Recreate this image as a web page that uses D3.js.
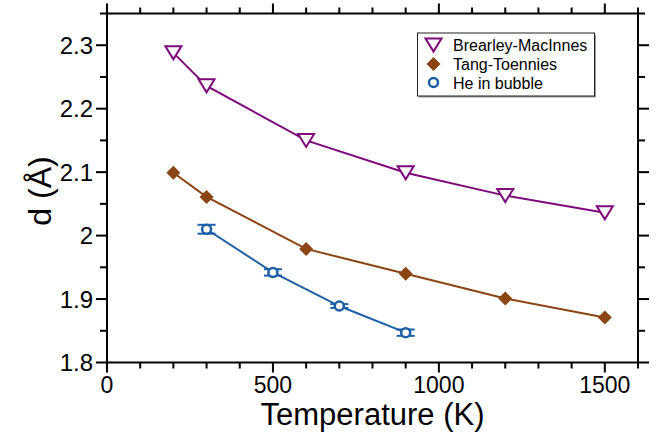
<!DOCTYPE html>
<html><head><meta charset="utf-8">
<script src="https://cdn.jsdelivr.net/npm/d3@7"></script>
<style>body{margin:0;background:#fff}svg{display:block;font-family:"Liberation Sans",Arial,sans-serif}</style>
</head><body><svg id="c" width="665" height="435"></svg>
<script>
const temps = [200, 300, 600, 900, 1200, 1500];
const brearley = [2.288, 2.236, 2.150, 2.099, 2.063, 2.036];
const tang = [2.099, 2.061, 1.979, 1.940, 1.901, 1.871];
const heTemps = [300, 500, 700, 900];
const heBubble = [2.010, 1.942, 1.889, 1.847];
const heErr = [0.007, 0.005, 0.003, 0.005];
const seriesNames = ["Brearley-MacInnes", "Tang-Toennies", "He in bubble"];
const xMajor = [0, 500, 1000, 1500];
const yMajor = [1.8, 1.9, 2.0, 2.1, 2.2, 2.3];
const yLabels = ["1.8", "1.9", "2", "2.1", "2.2", "2.3"];

const colors = ["#7d0a7b", "#8b4513", "#1d5fa6"];
const svg = d3.select("#c");
const L = 107, R = 638, T = 13.5, B = 362.5;
const x = d3.scaleLinear().domain([0, 1600]).range([L, R]);
const y = d3.scaleLinear().domain([1.8, 2.35]).range([B, T]);

const xMinor = d3.range(0, 1601, 100);
const yMinor = d3.range(0, 12).map(i => 1.8 + i * 0.05);

const ax = svg.append("g").attr("stroke", "#000").attr("stroke-width", 2);
ax.append("rect").attr("x", L).attr("y", T).attr("width", R - L).attr("height", B - T).attr("fill", "none");
xMinor.forEach(v => {
  const major = xMajor.includes(v);
  const len = major ? 10 : 6;
  ax.append("line").attr("x1", x(v)).attr("x2", x(v)).attr("y1", B).attr("y2", B + len);
  ax.append("line").attr("x1", x(v)).attr("x2", x(v)).attr("y1", T).attr("y2", T - len);
});
yMinor.forEach(v => {
  const major = yMajor.some(m => Math.abs(m - v) < 1e-6);
  const len = major ? 11 : 7;
  ax.append("line").attr("y1", y(v)).attr("y2", y(v)).attr("x1", L).attr("x2", L - len);
  ax.append("line").attr("y1", y(v)).attr("y2", y(v)).attr("x1", R).attr("x2", R + len);
});
svg.append("g").selectAll("text").data(xMajor).join("text")
  .attr("x", d => x(d)).attr("y", 393).attr("text-anchor", "middle")
  .attr("font-size", 23).text(d => d);
svg.append("g").selectAll("text").data(yMajor).join("text")
  .attr("x", 93).attr("y", d => y(d) + 8.5).attr("text-anchor", "end")
  .attr("font-size", 24).text((d, i) => yLabels[i]);
svg.append("text").attr("x", (L + R) / 2).attr("y", 425).attr("text-anchor", "middle")
  .attr("font-size", 31).text("Temperature (K)");
svg.append("text").attr("transform", "translate(51,191) rotate(-90)").attr("text-anchor", "middle")
  .attr("font-size", 32).text("d (Å)");

const line = d3.line().x(d => x(d[0])).y(d => y(d[1]));
const plot = svg.append("g");
const s1 = temps.map((t, i) => [t, brearley[i]]);
const s2 = temps.map((t, i) => [t, tang[i]]);
const s3 = heTemps.map((t, i) => [t, heBubble[i], heErr[i]]);
[s1, s2, s3].forEach((s, k) => {
  plot.append("path").attr("d", line(s)).attr("fill", "none").attr("stroke", colors[k]).attr("stroke-width", 2);
});
function tri(g, cx, cy, c) {
  g.append("path").attr("d", `M${cx - 8},${cy - 6.5}L${cx + 8},${cy - 6.5}L${cx},${cy + 6.5}Z`)
    .attr("fill", "#fff").attr("stroke", c).attr("stroke-width", 2);
}
function dia(g, cx, cy, c) {
  g.append("path").attr("d", `M${cx},${cy - 7}L${cx + 7},${cy}L${cx},${cy + 7}L${cx - 7},${cy}Z`).attr("fill", c);
}
function circ(g, cx, cy, c) {
  g.append("circle").attr("cx", cx).attr("cy", cy).attr("r", 4.5).attr("fill", "#fff").attr("stroke", c).attr("stroke-width", 2.5);
}
s1.forEach(d => tri(plot, x(d[0]), y(d[1]), colors[0]));
s2.forEach(d => dia(plot, x(d[0]), y(d[1]), colors[1]));
s3.forEach(d => {
  const cx = x(d[0]), y0 = y(d[1] - d[2]), y1 = y(d[1] + d[2]);
  const g = plot.append("g").attr("stroke", colors[2]).attr("stroke-width", 2);
  g.append("line").attr("x1", cx).attr("x2", cx).attr("y1", y0).attr("y2", y1);
  g.append("line").attr("x1", cx - 9).attr("x2", cx + 9).attr("y1", y0).attr("y2", y0);
  g.append("line").attr("x1", cx - 9).attr("x2", cx + 9).attr("y1", y1).attr("y2", y1);
  circ(plot, cx, y(d[1]), colors[2]);
});
const lg = svg.append("g");
lg.append("rect").attr("x", 419).attr("y", 34.5).attr("width", 177).attr("height", 63).attr("fill", "#999");
lg.append("rect").attr("x", 417.5).attr("y", 33).attr("width", 177).attr("height", 63).attr("fill", "#fff").attr("stroke", "#222").attr("stroke-width", 1);
const rows = [45, 64, 82.5];
tri(lg, 433.5, rows[0], colors[0]);
dia(lg, 433.5, rows[1], colors[1]);
circ(lg, 433.5, rows[2], colors[2]);
seriesNames.forEach((n, i) => {
  lg.append("text").attr("x", 453).attr("y", rows[i] + 6).attr("font-size", 16).text(n);
});
</script></body></html>
